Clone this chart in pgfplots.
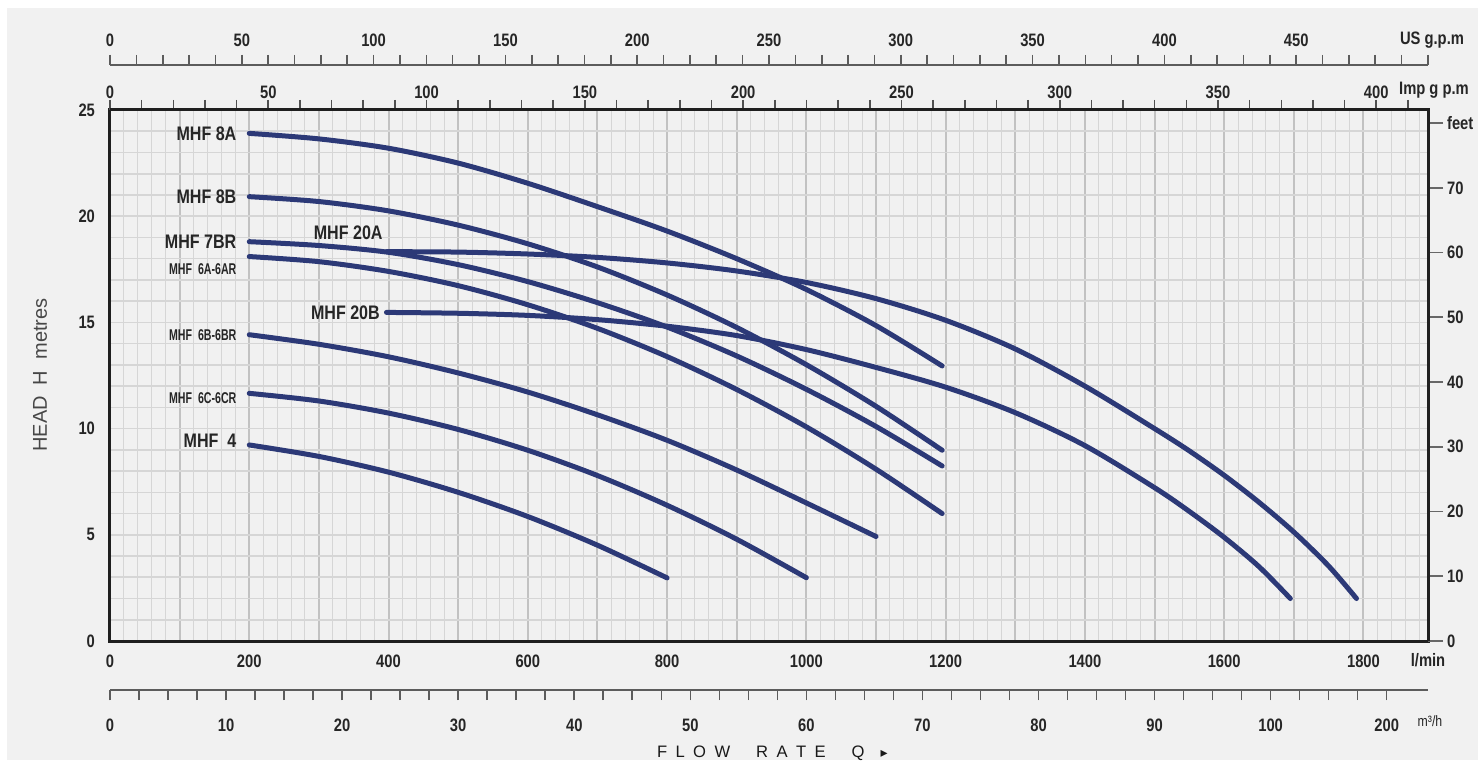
\documentclass[border=0pt]{standalone}
\usepackage{fontspec}
\setmainfont{Liberation Sans}
\newfontfamily\cond{Liberation Sans}[FakeStretch=0.82]
\newfontfamily\condx{Liberation Sans}[FakeStretch=0.68]
\newfontfamily\dejavu{DejaVu Sans}
\usepackage{pgfplots}
\pgfplotsset{compat=1.18}
\definecolor{bg}{HTML}{F1F1F1}
\definecolor{curve}{HTML}{2C3977}
\definecolor{gminor}{HTML}{D6D6D6}
\definecolor{gmajor}{HTML}{C2C2C2}
\definecolor{txt}{HTML}{262626}
\newcommand{\tl}{\cond\bfseries\fontsize{9}{9}\selectfont}
\newcommand{\ml}{\cond\bfseries\fontsize{9.8}{10}\selectfont}
\newcommand{\smalllab}{\condx\bfseries\fontsize{7.8}{8}\selectfont}
\pgfplotsset{pump/.style={color=curve, line width=2.5pt, line cap=round, smooth, no marks}}
\begin{document}
\begin{tikzpicture}[x=0.5pt,y=0.5pt]
\useasboundingbox (0,0) rectangle (1478,761);
\fill[white] (0,0) rectangle (1478,761);
\fill[bg] (7,1) rectangle (1478,753);
% main axis
\begin{axis}[
  at={(55pt,60pt)}, anchor=south west, scale only axis,
  width=659pt, height=265.5pt,
  xmin=0, xmax=1892.7, ymin=0, ymax=25,
  axis line style={line width=1.5pt, color=black!88},
  xtick={0,100,...,1800},
  xticklabels={0,,200,,400,,600,,800,,1000,,1200,,1400,,1600,,1800},
  minor xtick={20,40,...,1880},
  ytick={0,5,...,25}, yticklabels={0,5,10,15,20,25},
  minor ytick={0,1,...,25},
  grid=both,
  major x grid style={gmajor, line width=1pt},
  minor x grid style={gminor, line width=0.5pt},
  major y grid style={gminor, line width=0.8pt},
  minor y grid style={gminor, line width=0.8pt},
  major tick length=0pt, minor tick length=0pt,
  tick label style={font=\tl, text=txt},
  xticklabel shift=3.5pt, yticklabel shift=4pt,
  clip=false,
]
% MHF 8A
\addplot[pump] coordinates {(200,23.9)(300,23.64)(400,23.2)(500,22.5)(600,21.55)(700,20.45)(800,19.3)(900,18.0)(1000,16.55)(1100,14.85)(1195,12.95)};
% MHF 8B
\addplot[pump] coordinates {(200,20.92)(300,20.69)(400,20.25)(500,19.58)(600,18.70)(700,17.61)(800,16.29)(900,14.76)(1000,13.01)(1100,11.05)(1195,8.98)};
% MHF 7BR
\addplot[pump] coordinates {(200,18.8)(300,18.62)(400,18.3)(500,17.72)(600,16.92)(700,15.93)(800,14.78)(900,13.42)(1000,11.85)(1100,10.1)(1195,8.24)};
% MHF 6A-6AR
\addplot[pump] coordinates {(200,18.1)(300,17.86)(400,17.4)(500,16.73)(600,15.83)(700,14.72)(800,13.39)(900,11.84)(1000,10.08)(1100,8.09)(1195,6.0)};
% MHF 6B-6BR
\addplot[pump] coordinates {(200,14.42)(300,13.97)(400,13.38)(500,12.62)(600,11.72)(700,10.65)(800,9.45)(900,8.05)(1000,6.5)(1100,4.92)};
% MHF 6C-6CR
\addplot[pump] coordinates {(200,11.66)(300,11.3)(400,10.73)(500,9.96)(600,8.98)(700,7.79)(800,6.39)(900,4.79)(1000,2.98)};
% MHF 4
\addplot[pump] coordinates {(200,9.23)(300,8.69)(400,7.95)(500,7.0)(600,5.86)(700,4.51)(800,2.97)};
% MHF 20A
\addplot[pump] coordinates {(397,18.33)(500,18.31)(600,18.22)(700,18.06)(800,17.8)(900,17.42)(1000,16.88)(1100,16.12)(1200,15.1)(1300,13.75)(1400,12.0)(1500,10.0)(1550,8.95)(1600,7.8)(1650,6.53)(1700,5.13)(1750,3.53)(1790,2.0)};
% MHF 20B
\addplot[pump] coordinates {(397,15.47)(500,15.43)(600,15.33)(700,15.13)(800,14.82)(900,14.38)(1000,13.72)(1100,12.88)(1200,11.95)(1300,10.75)(1400,9.2)(1500,7.22)(1550,6.1)(1600,4.88)(1650,3.5)(1695,2.0)};
\node[anchor=east, inner sep=0, font=\ml, text=txt] at (axis cs:182,23.9) {MHF 8A};
\node[anchor=east, inner sep=0, font=\ml, text=txt] at (axis cs:182,20.92) {MHF 8B};
\node[anchor=east, inner sep=0, font=\ml, text=txt] at (axis cs:182,18.8) {MHF 7BR};
\node[anchor=east, inner sep=0, font=\smalllab, text=txt] at (axis cs:182,17.5) {MHF\ \ 6A-6AR};
\node[anchor=east, inner sep=0, font=\smalllab, text=txt] at (axis cs:182,14.42) {MHF\ \ 6B-6BR};
\node[anchor=east, inner sep=0, font=\smalllab, text=txt] at (axis cs:182,11.45) {MHF\ \ 6C-6CR};
\node[anchor=east, inner sep=0, font=\ml, text=txt] at (axis cs:182,9.45) {MHF\ \ 4};
\node[anchor=east, inner sep=0, font=\ml, text=txt] at (axis cs:392,19.2) {MHF 20A};
\node[anchor=east, inner sep=0, font=\ml, text=txt] at (axis cs:388,15.47) {MHF 20B};
\end{axis}
% Imp g p.m scale on top of frame
\begin{axis}[
  at={(55pt,60pt)}, anchor=south west, scale only axis,
  width=659pt, height=265.5pt,
  xmin=0, xmax=416.34, ymin=0, ymax=1,
  axis x line*=top, hide y axis,
  axis line style={line width=1.5pt, color=black!88},
  xtick={0,50,...,400}, xticklabels={0,50,100,150,200,250,300,350,400},
  minor xtick={0,10,...,410},
  tick align=outside, major tick length=5pt, minor tick length=5pt,
  every tick/.style={line width=0.8pt, color=txt!80},
  tick label style={font=\tl, text=txt},
  xticklabel shift=-3pt,
]
\end{axis}
% feet scale at right
\begin{axis}[
  at={(55pt,60pt)}, anchor=south west, scale only axis,
  width=659pt, height=265.5pt,
  xmin=0, xmax=1, ymin=0, ymax=82.021,
  axis y line*=right, hide x axis,
  axis line style={line width=1.5pt, color=black!88},
  ytick={0,10,...,80}, yticklabels={0,10,20,30,40,50,60,70,feet},
  tick align=outside, major tick length=7.5pt,
  every tick/.style={line width=0.8pt, color=txt!70},
  tick label style={font=\tl, text=txt},
  yticklabel shift=-1.5pt,
]
\end{axis}
% US g.p.m scale
\begin{axis}[
  at={(55pt,348pt)}, anchor=north west, scale only axis,
  width=659pt, height=5pt,
  xmin=0, xmax=500, ymin=0, ymax=1,
  axis x line*=top, hide y axis,
  axis line style={line width=0.9pt, color=txt!75},
  xtick={0,50,...,450}, xticklabels={0,50,100,150,200,250,300,350,400,450},
  minor xtick={0,10,...,500},
  tick align=outside, major tick length=5pt, minor tick length=5pt,
  every tick/.style={line width=0.8pt, color=txt!75},
  tick label style={font=\tl, text=txt},
  xticklabel shift=0.5pt,
]
\end{axis}
% m3/h scale
\begin{axis}[
  at={(55pt,35.5pt)}, anchor=south west, scale only axis,
  width=659pt, height=5pt,
  xmin=0, xmax=113.56, ymin=0, ymax=1,
  axis x line*=bottom, hide y axis,
  axis line style={line width=0.9pt, color=txt!75},
  xtick={0,10,...,110}, xticklabels={0,10,20,30,40,50,60,70,80,90,100,200},
  minor xtick={0,2.5,...,110},
  tick align=outside, major tick length=5pt, minor tick length=5pt,
  every tick/.style={line width=0.8pt, color=txt!75},
  tick label style={font=\tl, text=txt},
  xticklabel shift=6pt,
]
\end{axis}
\node[font=\tl, text=txt] at (1428,101) {l/min};
\node[font=\cond\fontsize{7.5}{8}\selectfont, text=txt] at (1430,40) {m³/h};
\node[font=\tl, text=txt] at (1432,721) {US g.p.m};
\node[font=\tl, text=txt] at (1434,671) {Imp g p.m};
\node[font=\fontsize{10}{10}\selectfont, text=txt!85, rotate=90] at (40,386) {HEAD\ \ H\ \ metres};
\node[font=\fontsize{8.3}{8}\selectfont, text=black!90, anchor=west] at (650,8) {F\hspace{4.2pt}L\hspace{4.2pt}O\hspace{4.2pt}W\hspace{13pt}R\hspace{4.2pt}A\hspace{4.2pt}T\hspace{4.2pt}E\hspace{13pt}Q\hspace{8pt}{\dejavu\fontsize{7}{7}\selectfont ▸}};
\end{tikzpicture}
\end{document}
